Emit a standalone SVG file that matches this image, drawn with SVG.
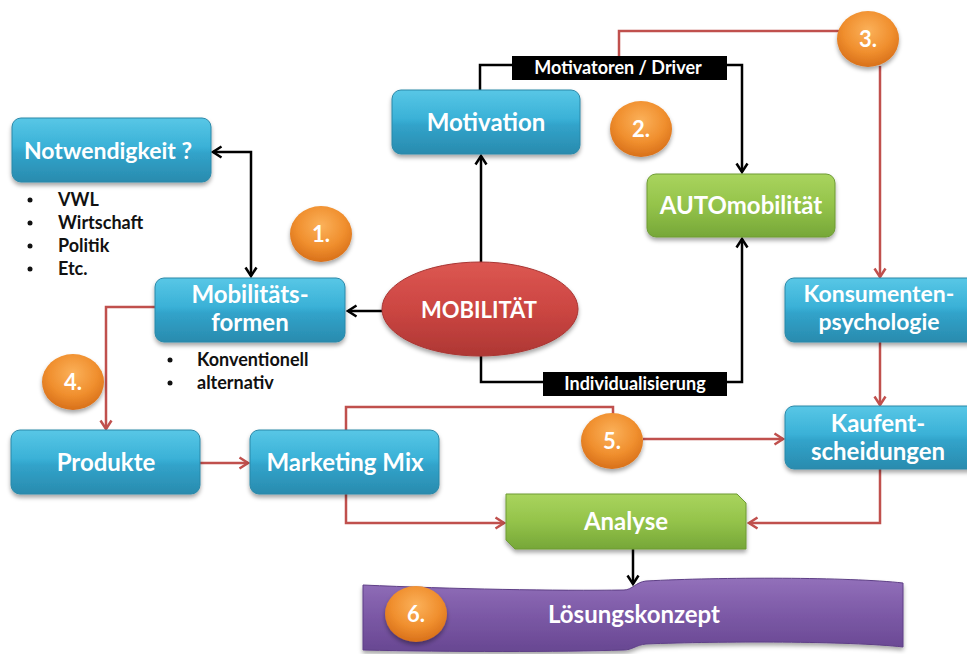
<svg xmlns="http://www.w3.org/2000/svg" width="967" height="654" viewBox="0 0 967 654">
<style>
.lbl{font-family:Lato,"Open Sans","Liberation Sans",sans-serif;font-weight:700;fill:#fff;text-anchor:middle}
.big{font-size:24px}
.mid{font-size:23px}
.badge-t{font-size:22px}
.tag{font-size:18px}
.bul{font-family:Lato,"Open Sans","Liberation Sans",sans-serif;font-weight:700;font-size:18px;fill:#111}
.dot{fill:#111}
.blue{fill:url(#gBlue);stroke:#2A88A8;stroke-width:1;filter:url(#sh)}
.green{fill:url(#gGreen);stroke:#6E9B35;stroke-width:1;filter:url(#sh)}
.orange{fill:url(#gOrange);filter:url(#sh)}
.blk{fill:none;stroke:#000;stroke-width:2.5}
.red{fill:none;stroke:#C0504D;stroke-width:2.5}
</style>
<defs>
<linearGradient id="gBlue" x1="0" y1="0" x2="0" y2="1">
<stop offset="0" stop-color="#58C7E6"/><stop offset="0.45" stop-color="#3AB1D7"/><stop offset="0.55" stop-color="#31A3CA"/><stop offset="1" stop-color="#2A8BAE"/>
</linearGradient>
<linearGradient id="gGreen" x1="0" y1="0" x2="0" y2="1">
<stop offset="0" stop-color="#A9D45E"/><stop offset="0.5" stop-color="#94C34A"/><stop offset="1" stop-color="#76A738"/>
</linearGradient>
<linearGradient id="gRed" x1="0" y1="0" x2="0" y2="1">
<stop offset="0" stop-color="#DC5752"/><stop offset="0.5" stop-color="#CC4642"/><stop offset="1" stop-color="#AE3734"/>
</linearGradient>
<linearGradient id="gPurple" x1="0" y1="0" x2="0" y2="1">
<stop offset="0" stop-color="#9270BA"/><stop offset="0.5" stop-color="#7C59A6"/><stop offset="1" stop-color="#684792"/>
</linearGradient>
<radialGradient id="gOrange" cx="0.5" cy="0.35" r="0.65">
<stop offset="0" stop-color="#FBB15A"/><stop offset="0.6" stop-color="#F08F2E"/><stop offset="1" stop-color="#D8701A"/>
</radialGradient>
<filter id="sh" x="-20%" y="-20%" width="140%" height="150%">
<feDropShadow dx="0" dy="3" stdDeviation="2" flood-color="#000" flood-opacity="0.35"/>
</filter>
<marker id="aB" markerWidth="12" markerHeight="14" refX="10" refY="7" orient="auto-start-reverse" markerUnits="userSpaceOnUse">
<path d="M1.5,1.5 L10,7 L1.5,12.5" fill="none" stroke="#000" stroke-width="2.5"/>
</marker>
<marker id="aR" markerWidth="12" markerHeight="14" refX="10" refY="7" orient="auto" markerUnits="userSpaceOnUse">
<path d="M1.5,1.5 L10,7 L1.5,12.5" fill="none" stroke="#C0504D" stroke-width="2.5"/>
</marker>
</defs>

<g id="connectors">
<path class="blk" d="M213,152 H251 V276" marker-start="url(#aB)" marker-end="url(#aB)"/>
<path class="blk" d="M382,311 H348" marker-end="url(#aB)"/>
<path class="blk" d="M481,262 V156" marker-end="url(#aB)"/>
<path class="blk" d="M480,90 V65 H742 V172" marker-end="url(#aB)"/>
<path class="blk" d="M481,356 V382 H742 V239" marker-end="url(#aB)"/>
<path class="blk" d="M633,549 V584" marker-end="url(#aB)"/>
<path class="red" d="M619,56 V31 H840"/>
<path class="red" d="M880,66 V277" marker-end="url(#aR)"/>
<path class="red" d="M880,342 V405" marker-end="url(#aR)"/>
<path class="red" d="M155,307 H106 V429" marker-end="url(#aR)"/>
<path class="red" d="M200,463 H248" marker-end="url(#aR)"/>
<path class="red" d="M346,430 V407 H613 V414"/>
<path class="red" d="M643,439 H783" marker-end="url(#aR)"/>
<path class="red" d="M346,494 V523 H504" marker-end="url(#aR)"/>
<path class="red" d="M880,469 V523 H749" marker-end="url(#aR)"/>
</g>

<g id="tag-driver">
<rect x="512" y="56" width="215" height="24" fill="#000"/>
<text class="lbl tag" x="618" y="74">Motivatoren / Driver</text>
</g>
<g id="tag-indiv">
<rect x="543" y="372" width="184" height="24" fill="#000"/>
<text class="lbl tag" x="635" y="390">Individualisierung</text>
</g>

<g id="notwendigkeit">
<rect class="blue" x="12" y="118" width="199" height="64" rx="9"/>
<text class="lbl mid" x="108" y="159">Notwendigkeit ?</text>
</g>
<g id="notwendigkeit-list">
<circle class="dot" cx="30" cy="200" r="2.5"/><text class="bul" x="58" y="206">VWL</text>
<circle class="dot" cx="30" cy="223" r="2.5"/><text class="bul" x="58" y="229">Wirtschaft</text>
<circle class="dot" cx="30" cy="246" r="2.5"/><text class="bul" x="58" y="252">Politik</text>
<circle class="dot" cx="30" cy="269" r="2.5"/><text class="bul" x="58" y="275">Etc.</text>
</g>

<g id="mobilitaetsformen">
<rect class="blue" x="155" y="278" width="190" height="64" rx="9"/>
<text class="lbl big" x="250" y="303">Mobilitäts-</text>
<text class="lbl big" x="250" y="331">formen</text>
</g>
<g id="formen-list">
<circle class="dot" cx="170" cy="360" r="2.5"/><text class="bul" x="197" y="366">Konventionell</text>
<circle class="dot" cx="170" cy="383" r="2.5"/><text class="bul" x="197" y="389">alternativ</text>
</g>

<g id="motivation">
<rect class="blue" x="392" y="90" width="188" height="64" rx="9"/>
<text class="lbl big" x="486" y="131">Motivation</text>
</g>

<g id="automobilitaet">
<rect class="green" x="647" y="174" width="188" height="63" rx="9"/>
<text class="lbl big" x="741" y="214">AUTOmobilität</text>
</g>

<g id="mobilitaet">
<ellipse cx="480" cy="309" rx="98" ry="47" fill="url(#gRed)" stroke="#A83532" stroke-width="1" filter="url(#sh)"/>
<text class="lbl" x="479" y="318" font-size="22">MOBILITÄT</text>
</g>

<g id="konsumentenpsychologie">
<rect class="blue" x="785" y="278" width="200" height="64" rx="9"/>
<text class="lbl mid" x="879" y="302">Konsumenten-</text>
<text class="lbl mid" x="879" y="330">psychologie</text>
</g>

<g id="kaufentscheidungen">
<rect class="blue" x="785" y="406" width="200" height="63" rx="9"/>
<text class="lbl big" x="878" y="432">Kaufent-</text>
<text class="lbl big" x="878" y="460">scheidungen</text>
</g>

<g id="produkte">
<rect class="blue" x="11" y="430" width="189" height="64" rx="9"/>
<text class="lbl big" x="106" y="471">Produkte</text>
</g>

<g id="marketing-mix">
<rect class="blue" x="250" y="430" width="189" height="64" rx="9"/>
<text class="lbl big" x="345" y="471">Marketing Mix</text>
</g>

<g id="analyse">
<path class="green" d="M506,494 H737 L746,503 V549 H515 L506,540 Z"/>
<text class="lbl big" x="626" y="530">Analyse</text>
</g>

<g id="loesungskonzept">
<path d="M363,585 C450,589 560,591 624,590 C632,590 636,582 646,581 C720,577 850,577 903,583 V647 C850,641 720,641 646,644 C636,645 632,650 624,650 C560,652 450,652 363,650 Z" fill="url(#gPurple)" stroke="#5E3F86" stroke-width="1" filter="url(#sh)"/>
<text class="lbl big" x="634" y="623">Lösungskonzept</text>
</g>

<g id="badge-1"><ellipse class="orange" cx="321" cy="234" rx="31" ry="28"/><text class="lbl badge-t" x="321" y="242">1.</text></g>
<g id="badge-2"><ellipse class="orange" cx="641" cy="129" rx="31" ry="28"/><text class="lbl badge-t" x="641" y="137">2.</text></g>
<g id="badge-3"><ellipse class="orange" cx="868" cy="39" rx="31" ry="28"/><text class="lbl badge-t" x="868" y="47">3.</text></g>
<g id="badge-4"><ellipse class="orange" cx="73" cy="382" rx="31" ry="28"/><text class="lbl badge-t" x="73" y="390">4.</text></g>
<g id="badge-5"><ellipse class="orange" cx="612" cy="441" rx="31" ry="28"/><text class="lbl badge-t" x="612" y="449">5.</text></g>
<g id="badge-6"><ellipse class="orange" cx="416" cy="614" rx="31" ry="28"/><text class="lbl badge-t" x="416" y="622">6.</text></g>
</svg>
